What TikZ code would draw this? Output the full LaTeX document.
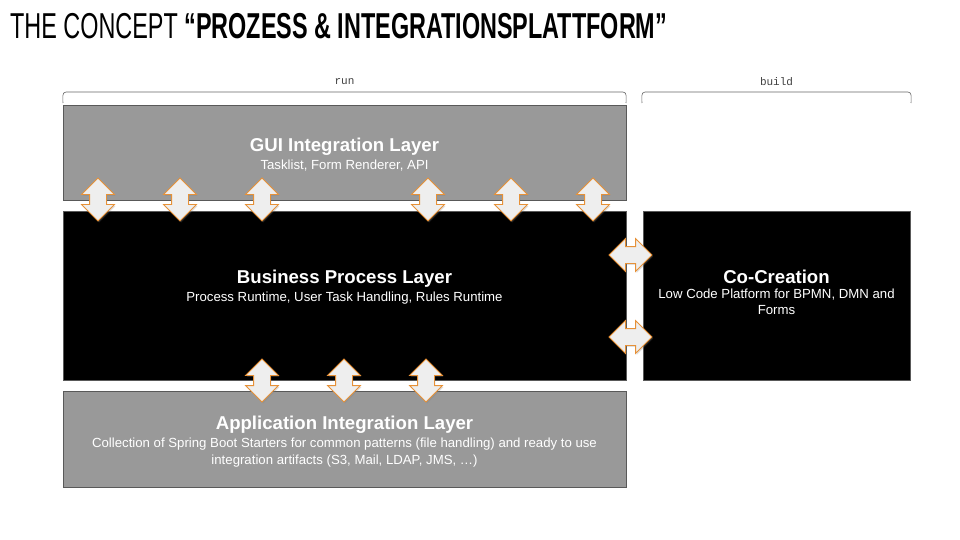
\documentclass[tikz,border=0pt]{standalone}
\usepackage{fontspec}
\setmainfont{Liberation Sans}
\setmonofont{Liberation Mono}
\newfontfamily\titlefont[FakeStretch=0.65]{Liberation Sans}
\usetikzlibrary{arrows.meta,positioning,shapes.arrows,shadows,calc}
\definecolor{layergray}{HTML}{999999}
\definecolor{edgegray}{HTML}{595959}
\definecolor{arrowfill}{HTML}{EEEEEE}
\definecolor{arroworange}{HTML}{E69138}
\definecolor{bracegray}{HTML}{666666}
\tikzset{
  layer/.style={draw=edgegray,line width=0.8pt,minimum width=563pt,inner sep=0pt},
  gui/.style={layer,fill=layergray},
  core/.style={layer,fill=black},
  head/.style={font=\bfseries\fontsize{18.6}{22}\selectfont,text=white,align=center,inner sep=0pt},
  sub/.style={font=\fontsize{13.2}{17}\selectfont,text=white,align=center,inner sep=0pt},
  link/.style={double arrow,draw=arroworange,fill=arrowfill,line width=0.8pt,
    inner xsep=0pt,inner ysep=8pt,minimum height=43pt,
    double arrow head extend=8pt,double arrow head indent=0pt,
    drop shadow={opacity=0.25,shadow xshift=1pt,shadow yshift=-1.5pt}},
  vlink/.style={link,rotate=90},
  brace/.style={draw=bracegray,line width=0.6pt},
  tag/.style={font=\ttfamily\fontsize{11}{13}\selectfont,text=black!75}
}
\begin{document}
\begin{tikzpicture}[x=1pt,y=-1pt]
\useasboundingbox (0,0) rectangle (960,540);

% title
\node[anchor=base west,inner sep=0pt,font=\titlefont\fontsize{36}{40}\selectfont] (title) at (10,39)
  {THE CONCEPT \textbf{“PROZESS \& INTEGRATIONSPLATTFORM”}};

% layers
\node[gui,minimum height=95pt] (guilayer) at (344.5,152.5) {};
\node[core,minimum height=169pt] (bpl) at (344.5,295.5) {};
\node[gui,minimum height=96pt] (ail) at (344.5,439) {};
\node[core,minimum width=267pt,minimum height=169pt] (cocreation) at (776.5,295.5) {};

\node[head] (guititle) at (344.5,146.5) {GUI Integration Layer};
\node[sub,below=4pt of guititle] (guitext) {Tasklist, Form Renderer, API};
\node[head] (bpltitle) at (344.5,278.5) {Business Process Layer};
\node[sub,below=4pt of bpltitle] (bpltext) {Process Runtime, User Task Handling, Rules Runtime};
\node[head] (ailtitle) at (344.5,424.5) {Application Integration Layer};
\node[sub,below=4.5pt of ailtitle] (ailtext) {Collection of Spring Boot Starters for common patterns (file handling) and ready to use\\integration artifacts (S3, Mail, LDAP, JMS, \dots)};
\node[head] (cctitle) at (776.5,276.5) {Co-Creation};
\node[sub,below=5.5pt of cctitle,font=\fontsize{13.2}{16}\selectfont] (cctext) {Low Code Platform for BPMN, DMN and\\Forms};

% run / build brackets
\coordinate (runl) at (63,103);
\coordinate (runr) at (626,103);
\coordinate (buildl) at (642,103);
\coordinate (buildr) at (911,103);
\draw[brace] (runl) to[out=90,in=180] ++(3,-11) -- ($(runr)+(-3,-11)$) to[out=0,in=90] (runr);
\draw[brace] (buildl) to[out=90,in=180] ++(3,-11) -- ($(buildr)+(-3,-11)$) to[out=0,in=90] (buildr);
\node[tag] (runtag) at (344.5,82) {run};
\node[tag] (buildtag) at (776.5,82) {build};

% links gui <-> business process
\foreach \x [count=\i] in {98,180,262,428,511,593}
  \node[vlink] (up\i) at (\x,199.5) {};
% links business process <-> application integration
\foreach \x [count=\i] in {262,344,426}
  \node[vlink] (down\i) at (\x,380.5) {};
% links business process <-> co-creation
\node[link] (side1) at (630.5,255) {};
\node[link] (side2) at (630.5,337) {};
\end{tikzpicture}
\end{document}
